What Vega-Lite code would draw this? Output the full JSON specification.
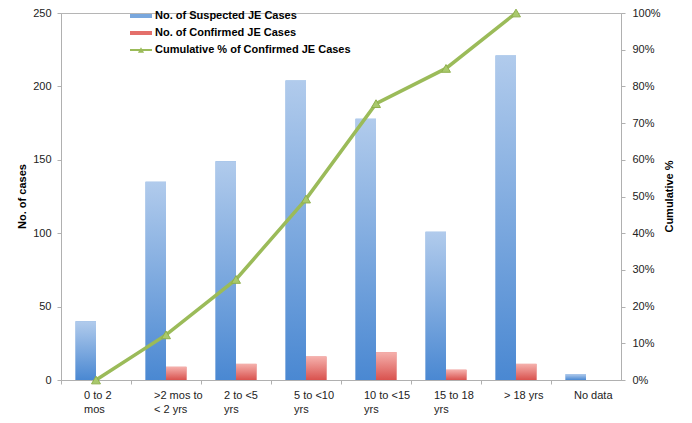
{
  "$schema": "https://vega.github.io/schema/vega-lite/v6.json",
  "width": 560,
  "height": 367,
  "autosize": {"type": "none"},
  "padding": {"left": 61, "top": 13, "right": 71, "bottom": 43},
  "background": "white",
  "config": {
    "font": "Liberation Sans",
    "view": {"stroke": "#b5b5b5", "strokeWidth": 1},
    "axis": {
      "grid": false,
      "domainColor": "#b0b0b0",
      "tickColor": "#b0b0b0",
      "tickSize": 4,
      "labelFont": "Liberation Sans",
      "labelFontSize": 11,
      "labelColor": "#222222",
      "titleFont": "Liberation Sans",
      "titleFontSize": 11,
      "titleFontWeight": "bold",
      "titleColor": "#000000"
    }
  },
  "datasets": {
    "bars": [
      {"age": "0 to 2 mos", "series": "No. of Suspected JE Cases", "cases": 40},
      {"age": "0 to 2 mos", "series": "No. of Confirmed JE Cases", "cases": 0},
      {"age": ">2 mos to < 2 yrs", "series": "No. of Suspected JE Cases", "cases": 135},
      {"age": ">2 mos to < 2 yrs", "series": "No. of Confirmed JE Cases", "cases": 9},
      {"age": "2 to <5 yrs", "series": "No. of Suspected JE Cases", "cases": 149},
      {"age": "2 to <5 yrs", "series": "No. of Confirmed JE Cases", "cases": 11},
      {"age": "5 to <10 yrs", "series": "No. of Suspected JE Cases", "cases": 204},
      {"age": "5 to <10 yrs", "series": "No. of Confirmed JE Cases", "cases": 16},
      {"age": "10 to <15 yrs", "series": "No. of Suspected JE Cases", "cases": 178},
      {"age": "10 to <15 yrs", "series": "No. of Confirmed JE Cases", "cases": 19},
      {"age": "15 to 18 yrs", "series": "No. of Suspected JE Cases", "cases": 101},
      {"age": "15 to 18 yrs", "series": "No. of Confirmed JE Cases", "cases": 7},
      {"age": "> 18 yrs", "series": "No. of Suspected JE Cases", "cases": 221},
      {"age": "> 18 yrs", "series": "No. of Confirmed JE Cases", "cases": 11},
      {"age": "No data", "series": "No. of Suspected JE Cases", "cases": 4},
      {"age": "No data", "series": "No. of Confirmed JE Cases", "cases": 0}
    ],
    "cum": [
      {"age": "0 to 2 mos", "pct": 0},
      {"age": ">2 mos to < 2 yrs", "pct": 0.123},
      {"age": "2 to <5 yrs", "pct": 0.274},
      {"age": "5 to <10 yrs", "pct": 0.493},
      {"age": "10 to <15 yrs", "pct": 0.753},
      {"age": "15 to 18 yrs", "pct": 0.849},
      {"age": "> 18 yrs", "pct": 1.0}
    ]
  },
  "layer": [
    {
      "data": {"name": "bars"},
      "encoding": {
        "x": {
          "field": "age",
          "type": "nominal",
          "sort": null,
          "scale": {
            "type": "band",
            "domain": ["0 to 2 mos", ">2 mos to < 2 yrs", "2 to <5 yrs", "5 to <10 yrs", "10 to <15 yrs", "15 to 18 yrs", "> 18 yrs", "No data"],
            "paddingInner": 0,
            "paddingOuter": 0
          },
          "axis": {
            "title": null,
            "orient": "bottom",
            "bandPosition": 0,
            "labelAngle": 0,
            "labelAlign": "left",
            "labelBaseline": "top",
            "labelOffset": -12,
            "labelPadding": 5,
            "labelLineHeight": 14,
            "labelExpr": "datum.value == '>2 mos to < 2 yrs' ? ['>2 mos to', '< 2 yrs'] : (datum.value == '> 18 yrs' || datum.value == 'No data') ? datum.value : [slice(datum.value, 0, lastindexof(datum.value, ' ')), slice(datum.value, lastindexof(datum.value, ' ') + 1)]"
          }
        },
        "xOffset": {
          "field": "series",
          "type": "nominal",
          "scale": {"domain": ["No. of Suspected JE Cases", "No. of Confirmed JE Cases"], "paddingInner": 0, "paddingOuter": 0.71}
        },
        "y": {
          "field": "cases",
          "type": "quantitative",
          "scale": {"domain": [0, 250], "nice": false},
          "axis": {
            "orient": "left",
            "title": "No. of cases",
            "values": [0, 50, 100, 150, 200, 250],
            "labelPadding": 6,
            "titleAngle": 270,
            "titleBaseline": "middle",
            "titleX": -39,
            "titleY": 183
          }
        }
      },
      "layer": [
        {
          "mark": {"type": "bar"},
          "encoding": {
            "color": {
              "field": "series",
              "type": "nominal",
              "scale": {
                "domain": ["No. of Suspected JE Cases", "No. of Confirmed JE Cases", "Cumulative % of Confirmed JE Cases"],
                "range": ["#79a7dd", "#e46f6b", "#9bbb59"]
              },
              "legend": {
                "title": null,
                "orient": "none",
                "legendX": 69,
                "legendY": -8,
                "padding": 0,
                "direction": "vertical",
                "labelFont": "Liberation Sans",
                "labelFontSize": 11,
                "labelFontWeight": "bold",
                "labelColor": "#000000",
                "labelOffset": 3,
                "labelLimit": 400,
                "symbolSize": 484,
                "rowPadding": 1,
                "symbolStrokeWidth": 0,
                "encode": {
                  "symbols": {
                    "update": {
                      "shape": {"signal": "datum.value === 'Cumulative % of Confirmed JE Cases' ? 'M-1,-0.1H1V0.1H-1Z M-0.28,0.24L0,-0.26L0.28,0.24Z' : 'M-1,-0.18H1V0.18H-1Z'"}
                    }
                  }
                }
              }
            }
          }
        },
        {
          "mark": {"type": "bar"},
          "encoding": {
            "fill": {
              "condition": {
                "test": "datum.series === 'No. of Confirmed JE Cases'",
                "value": {"gradient": "linear", "x1": 0, "y1": 0, "x2": 0, "y2": 1, "stops": [{"offset": 0, "color": "#f5b1ad"}, {"offset": 1, "color": "#d9524e"}]}
              },
              "value": {"gradient": "linear", "x1": 0, "y1": 0, "x2": 0, "y2": 1, "stops": [{"offset": 0, "color": "#b1cbec"}, {"offset": 1, "color": "#4a88d2"}]}
            }
          }
        }
      ]
    },
    {
      "data": {"name": "cum"},
      "encoding": {
        "x": {"field": "age", "type": "nominal", "sort": null},
        "y": {
          "field": "pct",
          "type": "quantitative",
          "scale": {"domain": [0, 1], "nice": false},
          "axis": {
            "orient": "right",
            "title": "Cumulative %",
            "format": ".0%",
            "values": [0, 0.1, 0.2, 0.3, 0.4, 0.5, 0.6, 0.7, 0.8, 0.9, 1],
            "labelPadding": 7,
            "titleAngle": 270,
            "titleBaseline": "middle",
            "titleX": 48,
            "titleY": 183
          }
        }
      },
      "layer": [
        {
          "mark": {"type": "line", "strokeWidth": 3.5},
          "encoding": {"color": {"datum": "Cumulative % of Confirmed JE Cases"}}
        },
        {
          "mark": {"type": "point", "shape": "triangle-up", "filled": true, "size": 80, "fill": "#a9c96c", "stroke": "#8fb04d", "strokeWidth": 1, "opacity": 1}
        }
      ]
    }
  ],
  "resolve": {"scale": {"y": "independent"}}
}
